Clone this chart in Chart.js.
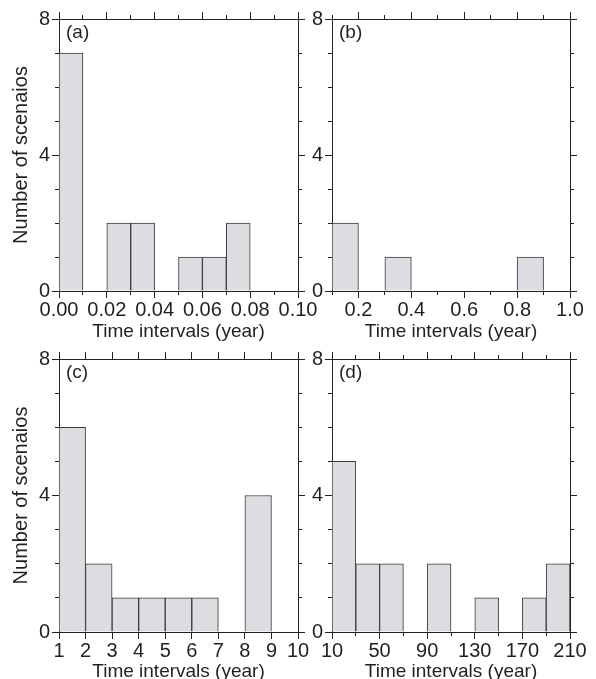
<!DOCTYPE html>
<html>
<head>
<meta charset="utf-8">
<script src="https://cdn.jsdelivr.net/npm/chart.js@4/dist/chart.umd.min.js"></script>
<style>
  html, body { margin: 0; padding: 0; background: #ffffff; overflow: hidden; width: 596px; height: 679px; }
  canvas { position: absolute; }
</style>
</head>
<body>
<canvas id="ca" width="330" height="345" style="left:0px;top:0px;width:330px;height:345px"></canvas>
<canvas id="cb" width="296" height="345" style="left:300px;top:0px;width:296px;height:345px"></canvas>
<canvas id="cc" width="330" height="370" style="left:0px;top:320px;width:330px;height:370px"></canvas>
<canvas id="cd" width="296" height="370" style="left:300px;top:320px;width:296px;height:370px"></canvas>
<script>
// ---- data ----
const edgesA = [0, 0.01, 0.02, 0.03, 0.04, 0.05, 0.06, 0.07, 0.08, 0.09, 0.10];
const countsA = [7, 0, 2, 2, 0, 1, 1, 2, 0, 0];
const tickLabelsA = ['0.00', '0.02', '0.04', '0.06', '0.08', '0.10'];

const edgesB = [0.1, 0.2, 0.3, 0.4, 0.5, 0.6, 0.7, 0.8, 0.9, 1.0];
const countsB = [2, 0, 1, 0, 0, 0, 0, 1, 0];
const tickLabelsB = ['0.2', '0.4', '0.6', '0.8', '1.0'];

const edgesC = [1, 2, 3, 4, 5, 6, 7, 8, 9, 10];
const countsC = [6, 2, 1, 1, 1, 1, 0, 4, 0];
const tickLabelsC = ['1', '2', '3', '4', '5', '6', '7', '8', '9', '10'];

const edgesD = [10, 30, 50, 70, 90, 110, 130, 150, 170, 190, 210];
const countsD = [5, 2, 2, 0, 2, 0, 1, 0, 1, 2];
const tickLabelsD = ['10', '50', '90', '130', '170', '210'];

const yTickValues = [0, 1, 2, 3, 4, 5, 6, 7, 8];
const yTickLabels = ['0', '4', '8'];

const panelLabels = ['(a)', '(b)', '(c)', '(d)'];
const xTitle = 'Time intervals (year)';
const yTitle = 'Number of scenaios';

// ---- style ----
const INK = '#231f20';
const FILL = '#dcdde0';
const EDGE = '#3a3a3a';
const FONT = "'Liberation Sans', Arial, Helvetica, sans-serif";
const MAJOR = 7, MINOR = 4;

function labelFor(labels, v) {
  const l = labels.find(s => Math.abs(parseFloat(s) - v) < 1e-9);
  return l === undefined ? '' : l;
}
function alignPx(p) { return Math.round(p - 0.5) + 0.5; }

const frameTicks = {
  id: 'frameTicks',
  afterDraw(chart, args, opts) {
    const ctx = chart.ctx, a = chart.chartArea;
    const sx = chart.scales.x, sx2 = chart.scales.x2, sy = chart.scales.y, sy2 = chart.scales.y2;
    ctx.save();
    ctx.strokeStyle = INK;
    ctx.lineWidth = 1;
    ctx.beginPath();
    sx.ticks.forEach((t) => {
      const len = t.label !== '' ? MAJOR : MINOR;
      const p = alignPx(sx.getPixelForValue(t.value));
      ctx.moveTo(p, a.bottom); ctx.lineTo(p, a.bottom + len);
      const q = alignPx(sx2.getPixelForValue(t.value));
      ctx.moveTo(q, a.top); ctx.lineTo(q, a.top - len);
    });
    sy.ticks.forEach((t) => {
      const len = t.label !== '' ? MAJOR : MINOR;
      const p = alignPx(sy.getPixelForValue(t.value));
      ctx.moveTo(a.left, p); ctx.lineTo(a.left - len, p);
      const q = alignPx(sy2.getPixelForValue(t.value));
      ctx.moveTo(a.right, q); ctx.lineTo(a.right + len, q);
    });
    ctx.stroke();
    // panel label
    ctx.fillStyle = INK;
    ctx.font = '19px ' + FONT;
    ctx.textAlign = 'left';
    ctx.textBaseline = 'middle';
    ctx.fillText(opts.text, a.left + 7, a.top + 14);
    ctx.restore();
  }
};

function makeChart(id, edges, counts, tickLabels, label, dims) {
  const data = counts.map((c, i) => ({ x: (edges[i] + edges[i + 1]) / 2, y: c }));
  const xmin = edges[0], xmax = edges[edges.length - 1];
  const grid = { drawOnChartArea: false, drawTicks: true, tickLength: MAJOR, tickColor: 'rgba(0,0,0,0)' };
  const border = { display: true, color: INK, width: 1 };
  const tickFont = { family: FONT, size: 20 };
  return new Chart(document.getElementById(id), {
    type: 'bar',
    data: {
      datasets: [{
        data: data,
        backgroundColor: FILL,
        borderColor: EDGE,
        borderWidth: 1,
        barPercentage: 1,
        categoryPercentage: 1
      }]
    },
    options: {
      responsive: false,
      animation: false,
      devicePixelRatio: 1,
      layout: { padding: 0 },
      plugins: {
        legend: { display: false },
        tooltip: { enabled: false },
        frameTicks: { text: label }
      },
      scales: {
        x: {
          type: 'linear', position: 'bottom', min: xmin, max: xmax, offset: false,
          afterBuildTicks: s => { s.ticks = edges.map(v => ({ value: v })); },
          afterFit: s => { s.height = dims.bottom; },
          grid: grid, border: border,
          ticks: { autoSkip: false, maxRotation: 0, minRotation: 0, padding: 0, color: INK, font: tickFont,
                   callback: v => labelFor(tickLabels, v) },
          title: { display: true, text: xTitle, color: INK, font: { family: FONT, size: 19 },
                   padding: { top: 0, bottom: dims.xTitlePad } }
        },
        x2: {
          type: 'linear', position: 'top', min: xmin, max: xmax, offset: false,
          afterBuildTicks: s => { s.ticks = edges.map(v => ({ value: v })); },
          afterFit: s => { s.height = dims.top; },
          grid: grid, border: border,
          ticks: { display: false }
        },
        y: {
          type: 'linear', position: 'left', min: 0, max: 8,
          afterBuildTicks: s => { s.ticks = yTickValues.map(v => ({ value: v })); },
          afterFit: s => { s.width = dims.left; },
          grid: grid, border: border,
          ticks: { padding: 2, color: INK, font: tickFont, callback: v => labelFor(yTickLabels, v) },
          title: { display: dims.yTitle, text: yTitle, color: INK, font: { family: FONT, size: 20 },
                   padding: { top: 9, bottom: 0 } }
        },
        y2: {
          type: 'linear', position: 'right', min: 0, max: 8,
          afterBuildTicks: s => { s.ticks = yTickValues.map(v => ({ value: v })); },
          afterFit: s => { s.width = dims.right; },
          grid: grid, border: border,
          ticks: { display: false }
        }
      }
    },
    plugins: [frameTicks]
  });
}

makeChart('ca', edgesA, countsA, tickLabelsA, panelLabels[0],
  { left: 59, right: 32, top: 19, bottom: 54, xTitlePad: 2, yTitle: true });
makeChart('cb', edgesB, countsB, tickLabelsB, panelLabels[1],
  { left: 32, right: 26, top: 19, bottom: 54, xTitlePad: 2, yTitle: false });
makeChart('cc', edgesC, countsC, tickLabelsC, panelLabels[2],
  { left: 59, right: 32, top: 39, bottom: 58, xTitlePad: 7, yTitle: true });
makeChart('cd', edgesD, countsD, tickLabelsD, panelLabels[3],
  { left: 32, right: 26, top: 39, bottom: 58, xTitlePad: 7, yTitle: false });
</script>
</body>
</html>
